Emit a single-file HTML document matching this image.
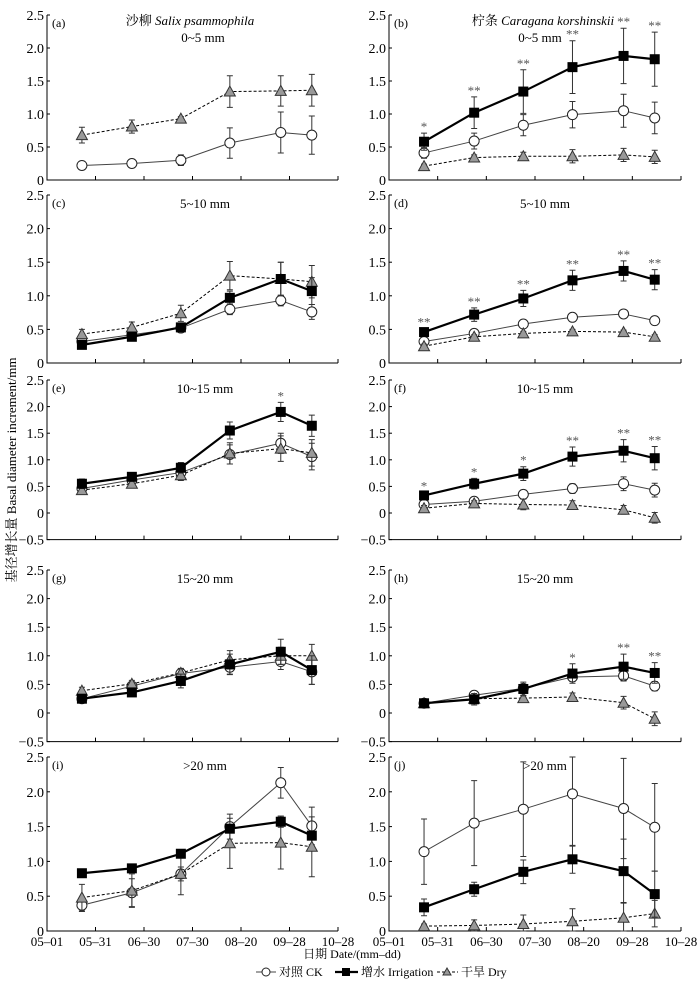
<!DOCTYPE html>
<html><head><meta charset="utf-8">
<style>
body{margin:0;background:#fff;}
svg{display:block;font-family:"Liberation Serif","Noto Serif CJK SC",serif;}
</style></head>
<body>
<svg id="fig" width="700" height="981" viewBox="0 0 700 981" xmlns="http://www.w3.org/2000/svg"></svg>
<script>
const categories = ["05-31","06-30","07-30","08-20","09-28","10-14"];
const datePos = [0.72,1.75,2.76,3.77,4.82,5.46];
const tickLabels = ["05–01","05–31","06–30","07–30","08–20","09–28","10–28"];
const yTicks = [2.5,2.0,1.5,1.0,0.5,0,-0.5];
const panelIds = ["a","b","c","d","e","f","g","h","i","j"];
const panelSub = ["0~5 mm","0~5 mm","5~10 mm","5~10 mm","10~15 mm","10~15 mm","15~20 mm","15~20 mm",">20 mm",">20 mm"];
const panelMin = [0,0,0,0,-0.5,-0.5,-0.5,-0.5,0,0];
const ckMean = [[0.22,0.25,0.30,0.56,0.72,0.68],[0.41,0.59,0.83,0.99,1.05,0.94],[0.32,0.42,0.52,0.80,0.93,0.76],[0.32,0.44,0.58,0.68,0.73,0.63],[0.46,0.62,0.76,1.10,1.31,1.06],[0.16,0.22,0.35,0.46,0.55,0.43],[0.25,0.47,0.69,0.80,0.90,0.72],[0.17,0.31,0.43,0.63,0.65,0.47],[0.37,0.55,0.82,1.50,2.13,1.51],[1.14,1.55,1.75,1.97,1.76,1.49]];
const ckErr = [[0.05,0.06,0.08,0.23,0.31,0.29],[0.08,0.12,0.16,0.20,0.25,0.24],[0.04,0.05,0.05,0.08,0.08,0.11],[0.05,0.05,0.05,0.05,0.05,0.06],[0.06,0.07,0.07,0.18,0.19,0.25],[0.04,0.04,0.08,0.09,0.13,0.13],[0.04,0.05,0.08,0.12,0.14,0.22],[0.04,0.04,0.05,0.08,0.09,0.08],[0.09,0.2,0.3,0.18,0.22,0.27],[0.47,0.61,0.68,0.75,0.72,0.63]];
const irrMean = [null,[0.58,1.02,1.34,1.71,1.88,1.83],[0.27,0.39,0.53,0.97,1.25,1.07],[0.46,0.72,0.96,1.23,1.37,1.24],[0.55,0.68,0.85,1.55,1.90,1.64],[0.33,0.55,0.74,1.06,1.17,1.03],[0.25,0.36,0.56,0.85,1.07,0.75],[0.17,0.24,0.42,0.69,0.81,0.70],[0.83,0.90,1.11,1.47,1.57,1.37],[0.34,0.60,0.85,1.03,0.86,0.53]];
const irrErr = [null,[0.13,0.24,0.33,0.40,0.42,0.41],[0.03,0.04,0.05,0.1,0.25,0.2],[0.05,0.1,0.12,0.15,0.15,0.15],[0.09,0.08,0.1,0.16,0.18,0.2],[0.06,0.1,0.13,0.18,0.21,0.22],[0.05,0.06,0.12,0.18,0.22,0.25],[0.04,0.1,0.12,0.17,0.22,0.18],[0.02,0.02,0.03,0.05,0.08,0.05],[0.12,0.1,0.17,0.2,0.46,0.33]];
const dryMean = [[0.68,0.81,0.93,1.34,1.35,1.36],[0.21,0.34,0.36,0.36,0.38,0.35],[0.43,0.53,0.74,1.30,1.25,1.21],[0.25,0.39,0.44,0.47,0.46,0.39],[0.43,0.55,0.71,1.12,1.21,1.13],[0.09,0.18,0.16,0.15,0.06,-0.09],[0.39,0.51,0.70,0.93,1.00,1.00],[0.17,0.25,0.26,0.28,0.18,-0.10],[0.48,0.58,0.82,1.26,1.27,1.21],[0.07,0.08,0.10,0.14,0.19,0.25]];
const dryErr = [[0.12,0.1,0.03,0.24,0.23,0.24],[0.03,0.04,0.06,0.1,0.1,0.1],[0.07,0.08,0.12,0.21,0.25,0.24],[0.03,0.03,0.03,0.03,0.03,0.03],[0.08,0.08,0.1,0.2,0.24,0.25],[0.05,0.05,0.1,0.08,0.08,0.1],[0.06,0.06,0.08,0.16,0.15,0.2],[0.05,0.05,0.05,0.07,0.11,0.12],[0.19,0.24,0.1,0.36,0.38,0.43],[0.03,0.08,0.13,0.18,0.22,0.19]];
const stars = [null,["*","**","**","**","**","**"],null,["**","**","**","**","**","**"],["","","","","*",""],["*","*","*","**","**","**"],null,["","","","*","**","**"],null,null];

const NS="http://www.w3.org/2000/svg";
const svg=document.getElementById('fig');
const colX=[[47,338],[389,681]];
const rowY=[[15,180],[195,363],[380,513],[570,713],[757,931]];
function mk(tag,attrs,parent,text){const e=document.createElementNS(NS,tag);for(const k in attrs)e.setAttribute(k,attrs[k]);if(text!==undefined)e.textContent=text;(parent||svg).appendChild(e);return e;}

panelIds.forEach((pid,p)=>{
  const col=p%2,row=Math.floor(p/2);
  const [x0,x1]=colX[col];const [yt,yz]=rowY[row];
  const unit=(yz-yt)/2.5;
  const ys=v=>yz-v*unit;
  const step=(x1-x0)/6;
  const xs=t=>x0+t*step;
  const minV=panelMin[p];
  const yb=ys(minV);
  const g=mk('g',{});
  
  
  const axes=mk('path',{d:`M${x0} ${yt}V${yb}H${x1}`,fill:'none',stroke:'#000','stroke-width':1},g);
  
  
  yTicks.forEach(v=>{
    if(v<minV)return;
    const y=ys(v);
    const tk=mk('line',{x1:x0,x2:x0+3,y1:y,y2:y,stroke:'#000'},g);
    
    
    const lb=mk('text',{x:x0-3,y:y+5,'text-anchor':'end','font-size':14},g,v===0?'0':(v<0?'−'+Math.abs(v).toFixed(1):v.toFixed(1)));
    
    
  });
  for(let i=1;i<=6;i++){
    const x=xs(i);
    const tk=mk('line',{x1:x,x2:x,y1:yb,y2:yb-4,stroke:'#000'},g);
    
    
  }
  if(row===4){
    tickLabels.forEach((t,i)=>{
      const lb=mk('text',{x:xs(i),y:yb+15,'text-anchor':'middle','font-size':13},g,t);
      
      
    });
  }
  const pl=mk('text',{x:x0+5,y:yt+12,'font-size':12},g,'('+pid+')');
  
  
  const cx=col===0?205:545;
  if(row===0){
    const tt=mk('text',{x:col===0?190:543,y:yt+10,'text-anchor':'middle','font-size':13},g);
    
    
    mk('tspan',{},tt,col===0?'沙柳 ':'柠条 ');
    mk('tspan',{'font-style':'italic'},tt,col===0?'Salix psammophila':'Caragana korshinskii');
    const st=mk('text',{x:col===0?203:540,y:yt+27,'text-anchor':'middle','font-size':13},g,panelSub[p]);
    
    
  } else {
    const st=mk('text',{x:cx,y:yt+13,'text-anchor':'middle','font-size':13},g,panelSub[p]);
    
    
  }
  const clampY=v=>Math.max(yt,Math.min(yb,ys(v)));
  function series(means,errs,kind){
    if(!means)return;
    const sg=mk('g',{},g);
    
    
    means.forEach((m,i)=>{
      const x=xs(datePos[i]),e=errs[i];
      const eb=mk('path',{d:`M${x} ${clampY(m-e)}V${clampY(m+e)}M${x-3} ${clampY(m+e)}h6M${x-3} ${clampY(m-e)}h6`,stroke:'#333','stroke-width':1,fill:'none'},sg);
      
      
    });
    const pts=means.map((m,i)=>xs(datePos[i])+','+ys(m)).join(' ');
    const ln=mk('polyline',{points:pts,fill:'none',stroke:kind==='ck'?'#444':'#000','stroke-width':kind==='irrigation'?2.2:1,'stroke-dasharray':kind==='dry'?'3,2':'none'},sg);
    
    
    means.forEach((m,i)=>{
      const x=xs(datePos[i]),y=ys(m);let mkEl;
      if(kind==='ck')mkEl=mk('circle',{cx:x,cy:y,r:5,fill:'#fff',stroke:'#222','stroke-width':1},sg);
      else if(kind==='irrigation')mkEl=mk('rect',{x:x-5,y:y-5,width:10,height:10,fill:'#000'},sg);
      else mkEl=mk('path',{d:`M${x} ${y-5.5}L${x+5.5} ${y+4.5}L${x-5.5} ${y+4.5}Z`,fill:'#999',stroke:'#333','stroke-width':1},sg);
      
      
    });
  }
  series(ckMean[p],ckErr[p],'ck');
  series(dryMean[p],dryErr[p],'dry');
  series(irrMean[p],irrErr[p],'irrigation');
  if(stars[p]){
    stars[p].forEach((s,i)=>{
      if(!s)return;
      const top=irrMean[p][i]+irrErr[p][i];
      const st=mk('text',{x:xs(datePos[i]),y:ys(top)-2,'text-anchor':'middle','font-size':13,fill:'#555'},g,s);
      
      
    });
  }
});
const yt=mk('text',{transform:'translate(16,470) rotate(-90)','text-anchor':'middle','font-size':13},svg,'基径增长量 Basal diameter increment/mm');


const xt=mk('text',{x:352,y:958,'text-anchor':'middle','font-size':12},svg,'日期 Date/(mm–dd)');


const lg=mk('g',{},svg);


mk('line',{x1:256,x2:276,y1:972,y2:972,stroke:'#444'},lg);
mk('circle',{cx:266,cy:972,r:4,fill:'#fff',stroke:'#222'},lg);
mk('text',{x:279,y:976,'font-size':12},lg,'对照 CK');
mk('line',{x1:335,x2:358,y1:972,y2:972,stroke:'#000','stroke-width':2.2},lg);
mk('rect',{x:342,y:968,width:8,height:8,fill:'#000'},lg);
mk('text',{x:361,y:976,'font-size':12},lg,'增水 Irrigation');
mk('line',{x1:437,x2:458,y1:972,y2:972,stroke:'#000','stroke-dasharray':'3,2'},lg);
mk('path',{d:'M447 968L451 975L443 975Z',fill:'#999',stroke:'#333'},lg);
mk('text',{x:461,y:976,'font-size':12},lg,'干旱 Dry');
</script>
</body></html>
